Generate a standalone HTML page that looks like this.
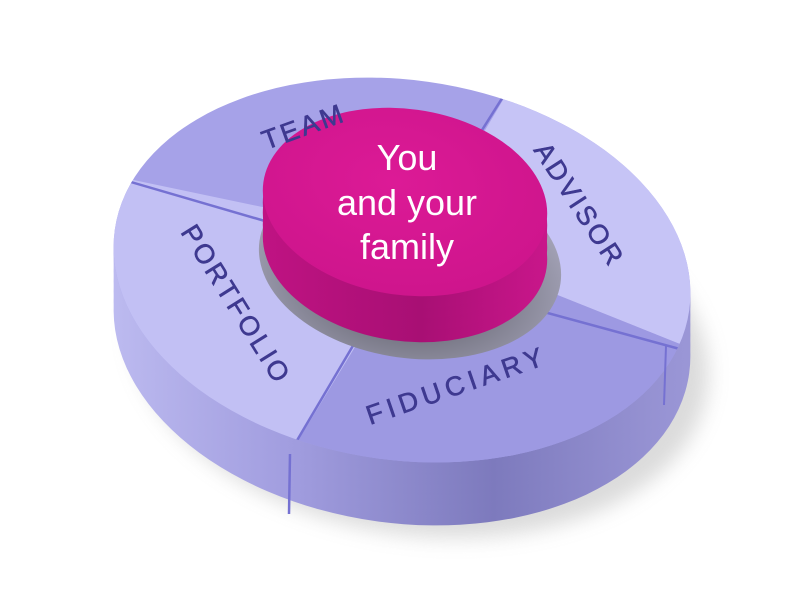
<!DOCTYPE html>
<html><head><meta charset="utf-8"><style>
html,body{margin:0;padding:0;background:#fff;width:801px;height:604px;overflow:hidden}
svg{display:block}
.lb{font-family:"Liberation Sans",sans-serif;font-size:27px;fill:#3e3990;stroke:#3e3990;stroke-width:0.6;letter-spacing:3px}
.ct{font-family:"Liberation Sans",sans-serif;font-size:36px;fill:#fff;text-anchor:middle}
</style></head><body>
<svg width="801" height="604" viewBox="0 0 801 604" xmlns="http://www.w3.org/2000/svg">
<defs>
<linearGradient id="side" x1="0" y1="0" x2="1" y2="0">
<stop offset="0" stop-color="#bdbbf0"/><stop offset="0.35" stop-color="#a19ddf"/><stop offset="0.7" stop-color="#7d7abd"/><stop offset="1" stop-color="#9a96d6"/>
</linearGradient>
<linearGradient id="pside" x1="0" y1="0" x2="1" y2="0">
<stop offset="0" stop-color="#c01383"/><stop offset="0.6" stop-color="#a80f74"/><stop offset="1" stop-color="#c8168a"/>
</linearGradient>
<radialGradient id="ptop" cx="0.45" cy="0.4" r="0.7">
<stop offset="0" stop-color="#dc1a96"/><stop offset="1" stop-color="#cc148b"/>
</radialGradient>
<radialGradient id="hole" cx="0.5" cy="0.62" r="0.6">
<stop offset="0" stop-color="#4e4e56"/><stop offset="1" stop-color="#a8a7bc"/>
</radialGradient>
<clipPath id="topclip"><ellipse cx="402" cy="270" rx="290" ry="190" transform="rotate(8 402 270)"/></clipPath>
<filter id="blur"><feGaussianBlur stdDeviation="10"/></filter>
</defs>
<ellipse cx="420" cy="350" rx="290" ry="185" transform="rotate(8 420 350)" fill="#999" opacity="0.35" filter="url(#blur)"/>
<g fill="url(#side)">
<ellipse cx="402" cy="333" rx="290" ry="190" transform="rotate(8 402 333)"/>
<ellipse cx="402" cy="323" rx="290" ry="190" transform="rotate(8 402 323)"/>
<ellipse cx="402" cy="313" rx="290" ry="190" transform="rotate(8 402 313)"/>
<ellipse cx="402" cy="303" rx="290" ry="190" transform="rotate(8 402 303)"/>
<ellipse cx="402" cy="293" rx="290" ry="190" transform="rotate(8 402 293)"/>
<ellipse cx="402" cy="283" rx="290" ry="190" transform="rotate(8 402 283)"/>
<ellipse cx="402" cy="276" rx="290" ry="190" transform="rotate(8 402 276)"/>
</g>
<g clip-path="url(#topclip)">
<rect x="0" y="0" width="801" height="604" fill="#a6a2e8"/>
<polygon points="420,240 100,173 60,200 60,604 250,604 250,520" fill="#c2c0f4"/>
<polygon points="420,240 535,46 780,40 780,370 720,360" fill="#c6c4f6"/>
<polygon points="420,240 720,360 720,604 250,604 250,520" fill="#9d99e2"/>
<g stroke="#7571d2" stroke-width="2.5">
<line x1="330" y1="240" x2="100" y2="173"/>
<line x1="460" y1="165" x2="535" y2="46"/>
<line x1="500" y1="300" x2="720" y2="360"/>
<line x1="380" y1="300" x2="250" y2="520"/>
</g>
</g>
<line x1="290" y1="454" x2="289" y2="514" stroke="#7571d2" stroke-width="2.5"/>
<line x1="666" y1="346" x2="664" y2="405" stroke="#7571d2" stroke-width="2"/>
<ellipse cx="410" cy="262" rx="152" ry="96" transform="rotate(8 410 262)" fill="url(#hole)"/>
<g fill="url(#pside)">
<ellipse cx="405" cy="248" rx="143" ry="93" transform="rotate(8 405 248)"/>
<ellipse cx="405" cy="236" rx="143" ry="93" transform="rotate(8 405 236)"/>
<ellipse cx="405" cy="224" rx="143" ry="93" transform="rotate(8 405 224)"/>
<ellipse cx="405" cy="214" rx="143" ry="93" transform="rotate(8 405 214)"/>
</g>
<ellipse cx="405" cy="202" rx="143" ry="93" transform="rotate(8 405 202)" fill="url(#ptop)"/>
<text class="ct" x="407" y="170">You</text>
<text class="ct" x="407" y="215">and your</text>
<text class="ct" x="407" y="259">family</text>
<text class="lb" transform="translate(266,150) rotate(-20)">TEAM</text>
<text class="lb" transform="translate(533,150) rotate(57)">ADVISOR</text>
<text class="lb" transform="translate(370,425) rotate(-19)" style="letter-spacing:5px">FIDUCIARY</text>
<text class="lb" transform="translate(180,232) rotate(58)">PORTFOLIO</text>
</svg>
</body></html>
